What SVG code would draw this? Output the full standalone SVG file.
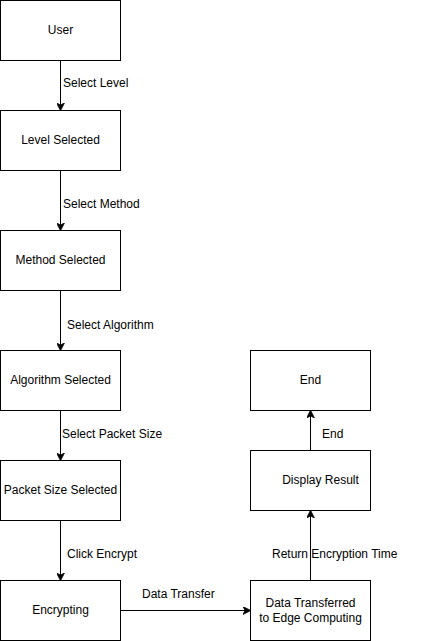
<svg xmlns="http://www.w3.org/2000/svg" width="431" height="641" viewBox="0 0 431 641">
<style>
.box{fill:#fff;stroke:#000;stroke-width:1}
.t{font-family:"Liberation Sans",Arial,sans-serif;font-size:12px;fill:#000}
.c{text-anchor:middle}
.e{fill:none;stroke:#000;stroke-width:1}
</style>
<defs>
<marker id="ah" viewBox="0 0 10 10" refX="9" refY="5" markerWidth="8" markerHeight="8" markerUnits="userSpaceOnUse" orient="auto">
<path d="M0,0 L10,5 L0,10 L3,5 z" fill="#000" stroke="#000"/>
</marker>
</defs>
<rect width="431" height="641" fill="#fff"/>
<g id="connectors">
<line class="e" x1="60.5" y1="60.5" x2="60.5" y2="110" marker-end="url(#ah)"/>
<line class="e" x1="60.5" y1="170.5" x2="60.5" y2="230" marker-end="url(#ah)"/>
<line class="e" x1="60.5" y1="290.5" x2="60.5" y2="350" marker-end="url(#ah)"/>
<line class="e" x1="60.5" y1="410.5" x2="60.5" y2="460" marker-end="url(#ah)"/>
<line class="e" x1="60.5" y1="520.5" x2="60.5" y2="580" marker-end="url(#ah)"/>
<line class="e" x1="120.5" y1="610.5" x2="250" y2="610.5" marker-end="url(#ah)"/>
<line class="e" x1="310.5" y1="580.5" x2="310.5" y2="511" marker-end="url(#ah)"/>
<line class="e" x1="310.5" y1="450.5" x2="310.5" y2="411" marker-end="url(#ah)"/>
<text class="t" x="63" y="87">Select Level</text>
<text class="t" x="63" y="208">Select Method</text>
<text class="t" x="67" y="329">Select Algorithm</text>
<text class="t" x="62" y="438">Select Packet Size</text>
<text class="t" x="67" y="558">Click Encrypt</text>
<text class="t" x="142" y="598">Data Transfer</text>
<text class="t" x="272" y="558">Return Encryption Time</text>
<text class="t" x="322" y="438">End</text>
</g>
<g id="user"><rect class="box" x="0.5" y="0.5" width="120" height="60"/><text class="t c" x="60.5" y="34">User</text></g>
<g id="level"><rect class="box" x="0.5" y="110.5" width="120" height="60"/><text class="t c" x="60.5" y="144">Level Selected</text></g>
<g id="method"><rect class="box" x="0.5" y="230.5" width="120" height="60"/><text class="t c" x="60.5" y="264">Method Selected</text></g>
<g id="algorithm"><rect class="box" x="0.5" y="350.5" width="120" height="60"/><text class="t c" x="60.5" y="384">Algorithm Selected</text></g>
<g id="packet"><rect class="box" x="0.5" y="460.5" width="120" height="60"/><text class="t c" x="60.5" y="494">Packet Size Selected</text></g>
<g id="encrypting"><rect class="box" x="0.5" y="580.5" width="120" height="60"/><text class="t c" x="60.5" y="614">Encrypting</text></g>
<g id="transferred"><rect class="box" x="250.5" y="580.5" width="120" height="60"/><text class="t c" x="310.5" y="607">Data Transferred</text><text class="t c" x="310.5" y="622">to Edge Computing</text></g>
<g id="display"><rect class="box" x="250.5" y="450.5" width="120" height="60"/><text class="t c" x="320.5" y="484">Display Result</text></g>
<g id="end"><rect class="box" x="250.5" y="350.5" width="120" height="60"/><text class="t c" x="310.5" y="384">End</text></g>
</svg>
